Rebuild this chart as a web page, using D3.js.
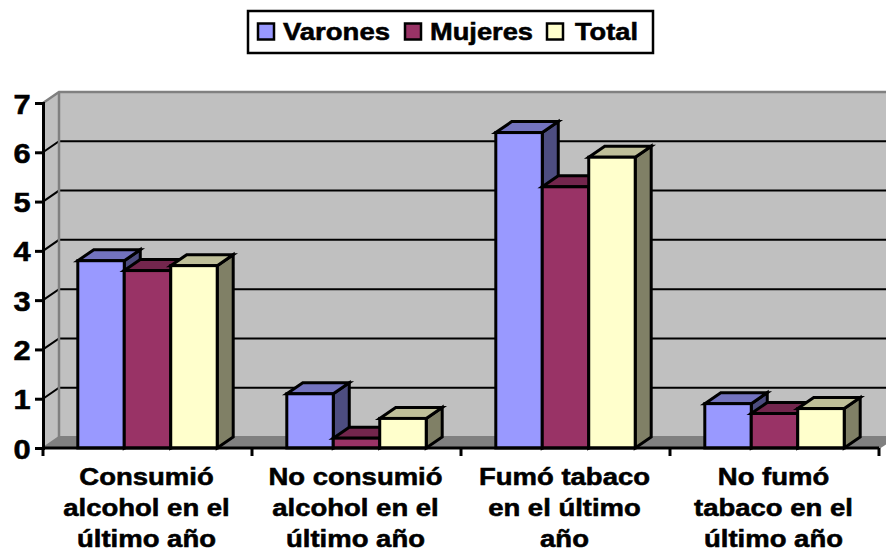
<!DOCTYPE html>
<html><head><meta charset="utf-8">
<script src="https://cdn.jsdelivr.net/npm/d3@7/dist/d3.min.js"></script>
<style>html,body{margin:0;background:#fff}svg{display:block}text{font-family:"Liberation Sans",Arial,sans-serif;font-weight:bold;fill:#000;stroke:#000;stroke-width:.55px}</style>
</head><body><svg id="c" width="886" height="552"></svg>
<script>
const categories = [
  ["Consumió","alcohol en el","último año"],
  ["No consumió","alcohol en el","último año"],
  ["Fumó tabaco","en el último","año"],
  ["No fumó","tabaco en el","último año"]];
const seriesNames = ["Varones","Mujeres","Total"];
const varones = [3.8,1.1,6.4,0.9];
const mujeres = [3.6,0.2,5.3,0.7];
const total = [3.7,0.6,5.9,0.8];
const seriesValues = [varones,mujeres,total];
const frontColors = ["#9999FF","#993366","#FFFFCC"];
const topColors = ["#7373BF","#73264D","#BFBF99"];
const sideColors = ["#4D4D80","#4D1A33","#808066"];
const yTicks = [0,1,2,3,4,5,6,7];
const legendSwatchX = [258,405,547];
const legendTextX = [283,430,575];
const legendTextW = [107,103,63];

const svg = d3.select("#c");
const dx = 16, dy = -11, L = 43, R = 879, Y0 = 448, Y7 = 103;
const x = d3.scaleBand().domain(d3.range(4)).range([L,R]).paddingInner(0.333).paddingOuter(0.1665);
const band = d3.scaleBand().domain(d3.range(4)).range([L,R]);
const xs = d3.scaleBand().domain(d3.range(3)).range([0,x.bandwidth()]);
const y = d3.scaleLinear().domain([0,7]).range([Y0,Y7]);
const poly = pts => pts.map(p=>p.join(",")).join(" ");

// walls
svg.append("polygon").attr("points",poly([[L+dx,Y7+dy],[R+dx+10,Y7+dy],[R+dx+10,Y0+dy],[L+dx,Y0+dy]])).attr("fill","#C0C0C0");
svg.append("polygon").attr("points",poly([[L,Y7],[L+dx,Y7+dy],[L+dx,Y0+dy],[L,Y0]])).attr("fill","#C0C0C0");
svg.append("polygon").attr("points",poly([[L,Y0],[L+dx,Y0+dy],[R+dx,Y0+dy],[R,Y0]])).attr("fill","#808080");
// grid
yTicks.filter(t=>t>0&&t<7).forEach(t=>{
  svg.append("polyline").attr("points",poly([[L,y(t)],[L+dx,y(t)+dy],[R+dx,y(t)+dy]])).attr("fill","none").attr("stroke","#000").attr("stroke-width",2);
});
// wall borders
svg.append("polyline").attr("points",poly([[L,Y7],[L+dx,Y7+dy],[R+dx+10,Y7+dy]])).attr("fill","none").attr("stroke","#808080").attr("stroke-width",2.5);
svg.append("line").attr("x1",L+dx).attr("x2",L+dx).attr("y1",Y7+dy).attr("y2",Y0+dy).attr("stroke","#808080").attr("stroke-width",2.5);
svg.append("polyline").attr("points",poly([[L,Y0],[L+dx,Y0+dy],[R+dx,Y0+dy]])).attr("fill","none").attr("stroke","#808080").attr("stroke-width",2);
svg.append("line").attr("x1",R).attr("x2",R+dx).attr("y1",Y0).attr("y2",Y0+dy).attr("stroke","#808080").attr("stroke-width",2);

// axes
const ya = d3.axisLeft(y).tickValues(yTicks).tickSize(8).tickFormat(d3.format("d"));
const yg = svg.append("g").attr("transform",`translate(${L},0)`).call(ya);
yg.select(".domain").attr("stroke","#000").attr("stroke-width",3);
yg.selectAll(".tick line").attr("stroke","#000").attr("stroke-width",3);
yg.selectAll(".tick text").remove();
yg.selectAll(".tick").append("text").text(d=>d).attr("text-anchor","middle")
  .attr("transform","translate(-21,10) scale(1.1,1)").attr("font-size",28);

// bars
categories.forEach((c,i)=>{
  seriesValues.forEach((vals,s)=>{
    const x0 = x(i)+xs(s), x1 = x0+xs.bandwidth(), yt = y(vals[i]);
    const g = svg.append("g").attr("stroke","#000").attr("stroke-width",3).attr("stroke-linejoin","miter");
    g.append("polygon").attr("points",poly([[x1,yt],[x1+dx,yt+dy],[x1+dx,Y0+dy],[x1,Y0]])).attr("fill",sideColors[s]);
    g.append("polygon").attr("points",poly([[x0,yt],[x0+dx,yt+dy],[x1+dx,yt+dy],[x1,yt]])).attr("fill",topColors[s]);
    g.append("rect").attr("x",x0).attr("y",yt).attr("width",x1-x0).attr("height",Y0-yt).attr("fill",frontColors[s]);
  });
});

// baseline + category ticks
svg.append("line").attr("x1",L).attr("x2",R).attr("y1",Y0).attr("y2",Y0).attr("stroke","#000").attr("stroke-width",3);
d3.range(5).forEach(i=>{
  const tx = i<4?band(i):R;
  svg.append("line").attr("x1",tx).attr("x2",tx).attr("y1",Y0).attr("y2",Y0+8).attr("stroke","#000").attr("stroke-width",3);
});

// category labels
categories.forEach((lines,i)=>{
  const cx = band(i)+band.bandwidth()/2-1;
  lines.forEach((t,k)=>{
    svg.append("text").text(t).attr("text-anchor","middle").attr("font-size",23.5)
      .attr("transform",`translate(${cx},${484.5+k*31.2}) scale(1.17,1)`);
  });
});

// legend
svg.append("rect").attr("x",248).attr("y",11).attr("width",405).attr("height",42).attr("fill","#fff").attr("stroke","#000").attr("stroke-width",2.5);
seriesNames.forEach((n,s)=>{
  svg.append("rect").attr("x",legendSwatchX[s]).attr("y",23.5).attr("width",16).attr("height",16).attr("fill",frontColors[s]).attr("stroke","#000").attr("stroke-width",2.5);
  svg.append("text").text(n).attr("x",legendTextX[s]).attr("y",40).attr("font-size",24).attr("textLength",legendTextW[s]).attr("lengthAdjust","spacingAndGlyphs");
});
</script></body></html>
